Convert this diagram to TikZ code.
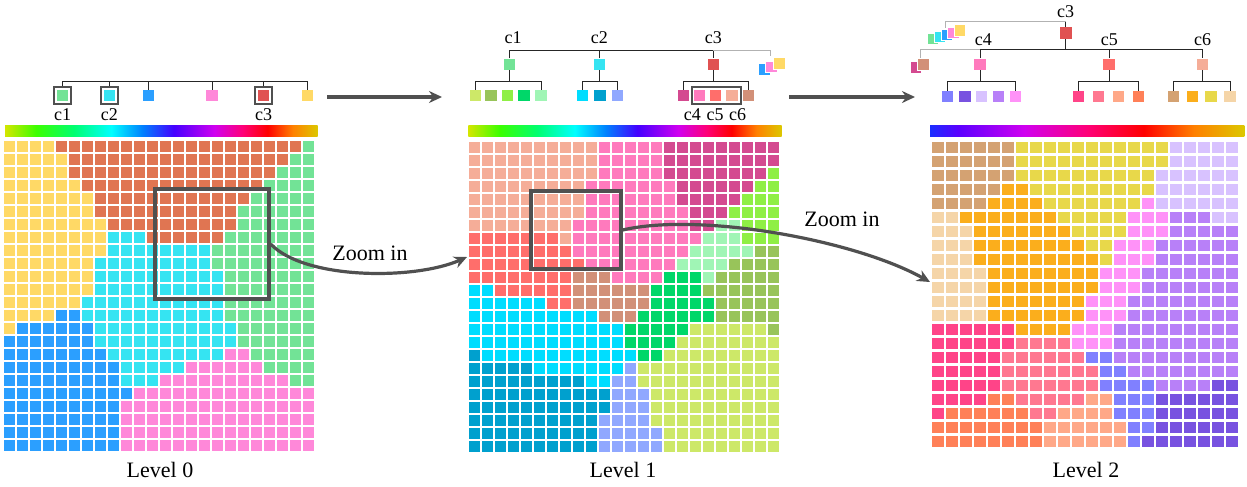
\documentclass[tikz,border=0pt]{standalone}
\usepackage{fontspec}
\setmainfont{Liberation Serif}
\usetikzlibrary{arrows.meta}

% level 0 colours
\definecolor{zaY}{HTML}{FFD966}
\definecolor{zaO}{HTML}{E07552}
\definecolor{zaG}{HTML}{72E396}
\definecolor{zaC}{HTML}{35E4F2}
\definecolor{zaB}{HTML}{2B9FFF}
\definecolor{zaP}{HTML}{FF88D9}
% level 1 colours
\definecolor{zbS}{HTML}{F5AD98}
\definecolor{zbK}{HTML}{FF7ABD}
\definecolor{zbM}{HTML}{D44A90}
\definecolor{zbL}{HTML}{8FEF45}
\definecolor{zbR}{HTML}{FF6E6B}
\definecolor{zbN}{HTML}{A0F5B5}
\definecolor{zbV}{HTML}{98C45A}
\definecolor{zbT}{HTML}{D29078}
\definecolor{zbE}{HTML}{00D769}
\definecolor{zbZ}{HTML}{00DDFF}
\definecolor{zbD}{HTML}{00A0CE}
\definecolor{zbW}{HTML}{90A8FF}
\definecolor{zbX}{HTML}{CDE868}
% level 2 colours
\definecolor{zca}{HTML}{D4A272}
\definecolor{zcy}{HTML}{E8D84A}
\definecolor{zcq}{HTML}{D8C2FF}
\definecolor{zco}{HTML}{FBAE1C}
\definecolor{zcf}{HTML}{F5D5A8}
\definecolor{zch}{HTML}{FF92F8}
\definecolor{zcu}{HTML}{B880F8}
\definecolor{zcr}{HTML}{FF4488}
\definecolor{zcp}{HTML}{FF7890}
\definecolor{zce}{HTML}{FFA888}
\definecolor{zcc}{HTML}{FF8058}
\definecolor{zcb}{HTML}{8080FF}
\definecolor{zcv}{HTML}{7852E0}
\definecolor{redc}{HTML}{E05252}
\definecolor{zoomgray}{HTML}{505050}

% colour bars
\definecolor{rbA}{HTML}{D4E600}
\definecolor{rbB}{HTML}{3CFF00}
\definecolor{rbC}{HTML}{00FF70}
\definecolor{rbD}{HTML}{00FFFF}
\definecolor{rbE}{HTML}{0080FF}
\definecolor{rbF}{HTML}{4400FF}
\definecolor{rbG}{HTML}{D000F0}
\definecolor{rbH}{HTML}{FF0078}
\definecolor{rbI}{HTML}{FF0000}
\definecolor{rbJ}{HTML}{FF8000}
\definecolor{rbK}{HTML}{DCC800}
\definecolor{rbL}{HTML}{1A2EFF}
\definecolor{rbM}{HTML}{5A00FF}
\pgfdeclarehorizontalshading{rainbowfull}{100bp}{color(0bp)=(rbA); color(25bp)=(rbA);
  color(30bp)=(rbB); color(36bp)=(rbC); color(42bp)=(rbD); color(47bp)=(rbE);
  color(52bp)=(rbF); color(58.5bp)=(rbG); color(63bp)=(rbH); color(67bp)=(rbI);
  color(71bp)=(rbJ); color(75bp)=(rbK); color(100bp)=(rbK)}
\pgfdeclarehorizontalshading{rainbowpart}{100bp}{color(0bp)=(rbL); color(25bp)=(rbL);
  color(29.5bp)=(rbM); color(40bp)=(rbG); color(50bp)=(rbH); color(59bp)=(rbI);
  color(67bp)=(rbJ); color(75bp)=(rbK); color(100bp)=(rbK)}

% one row of cells, one letter per cell
\newcount\cellk
\newcommand\cellrow[2]{\cellk=0 \def\cellj{#1}\expandafter\celldo#2\relax}
\newcommand\celldo[1]{\ifx#1\relax\else
  \fill[fill=\cellpre#1] ({\cellx+\the\cellk*\cellp},{\celly+\cellj*\cellp}) rectangle ++(\cellsz,\cellsz);
  \advance\cellk by 1 \expandafter\celldo\fi}

\tikzset{
  leaf/.style={minimum size=11.5pt, inner sep=0pt, fill=#1},
  stackleaf/.style={leaf=#1, draw=white, line width=0.8pt},
  framebox/.style={draw=zoomgray, line width=2pt, minimum size=16.5pt, inner sep=0pt},
  bar/.style={line width=1pt, black!85},
  ghost/.style={line width=1pt, black!30},
  lab/.style={font=\rmfamily\fontsize{18}{20}\selectfont, inner sep=0pt},
  caption/.style={font=\rmfamily\fontsize{22}{26}\selectfont, inner sep=0pt},
  zoombox/.style={draw=zoomgray, line width=3.3pt, inner sep=0pt},
  zoomarrow/.style={line width=3.2pt, zoomgray, -{Stealth[length=13pt,width=12pt]}}
}

\begin{document}
\begin{tikzpicture}[x=1pt,y=-1pt]
\useasboundingbox (0,0) rectangle (1247,487);

% level 0 grid
\def\cellpre{za}\def\cellx{4.3}\def\celly{141}\def\cellp{13}\def\cellsz{11}
\foreach \r [count=\j from 0] in {
 YYYYOOOOOOOOOOOOOOOOOOOG, YYYYYOOOOOOOOOOOOOOOOOGG, YYYYYOOOOOOOOOOOOOOOOGGG,
 YYYYYYOOOOOOOOOOOOOOGGGG, YYYYYYYOOOOOOOOOOOOGGGGG, YYYYYYYOOOOOOOOOOOGGGGGG,
 YYYYYYYYOOOOOOOOOOGGGGGG, YYYYYYYYCCCOOOOOOGGGGGGG, YYYYYYYYCCCCCCCCGGGGGGGG,
 YYYYYYYCCCCCCCCCGGGGGGGG, YYYYYYYCCCCCCCCCCGGGGGGG, YYYYYYYCCCCCCCCCCGGGGGGG,
 YYYYYYCCCCCCCCCCCGGGGGGG, YYYYBBCCCCCCCCCCCGGGGGGG, YBBBBBBCCCCCCCCCCCGGGGGG,
 BBBBBBBCCCCCCCCCCCGGGGGG, BBBBBBBBCCCCCCCCCPPGGGGG, BBBBBBBBBCCCCCPPPPPPGGGG,
 BBBBBBBBBCCCPPPPPPPPPPGG, BBBBBBBBBBPPPPPPPPPPPPPP, BBBBBBBBBPPPPPPPPPPPPPPP,
 BBBBBBBBBPPPPPPPPPPPPPPP, BBBBBBBBBPPPPPPPPPPPPPPP, BBBBBBBBBPPPPPPPPPPPPPPP}
 {\cellrow{\j}{\r}}

% level 1 grid
\def\cellpre{zb}\def\cellx{468.7}\def\celly{141.5}
\foreach \r [count=\j from 0] in {
 SSSSSSSSSSKKKKKMMMMMMMMM, SSSSSSSSSSKKKKKMMMMMMMMM, SSSSSSSSSSKKKKKMMMMMMMML,
 SSSSSSSSSKKKKKKKMMMMMMLL, SSSSSSSSSKKKKKKKMMMMMLLL, SSSSSSSSSKKKKKKKKMMMLLLL,
 SSSSSSSSKKKKKKKKKMMNNLLL, RRRRRRRSKKKKKKKKKKNNNLLL, RRRRRRRRKKKKKKKKKNNNNNVV,
 RRRRRRRRRKKKKKKKNNNNVVVV, RRRRRRRRTTTKKKKEEENVVVVV, ZZRRRRRRTTTTTTEEEEVVVVVV,
 ZZZZZZRRTTTTTTEEEEEVVVVV, ZZZZZZZZZZTTTEEEEEEVVVVV, ZZZZZZZZZZZZEEEEEXXXXXXV,
 ZZZZZZZZZZZZEEEEXXXXXXXX, DZZZZZZZZZZZZEEXXXXXXXXX, DDDDDZZZZZZZWXXXXXXXXXXX,
 DDDDDDDDDZZWWXXXXXXXXXXX, DDDDDDDDDDDWWWXXXXXXXXXX, DDDDDDDDDDDWWWXXXXXXXXXX,
 DDDDDDDDDDWWWWXXXXXXXXXX, DDDDDDDDDDWWWWWXXXXXXXXX, DDDDDDDDDDWWWWWXXXXXXXXX}
 {\cellrow{\j}{\r}}

% level 2 grid
\def\cellpre{zc}\def\cellx{932.3}\def\celly{141.5}\def\cellp{14}\def\cellsz{11.8}
\foreach \r [count=\j from 0] in {
 aaaaaayyyyyyyyyyyqqqqq, aaaaaayyyyyyyyyyyqqqqq, aaaaaayyyyyyyyyyqqqqqq,
 aaaaaooyyyyyyyyyqqqqqq, aaaaooooyyyyyyyhqqqqqq, ffoooooooyyyyyhhhuuuqq,
 fffoooooooyyyyhhhuuuuu, fffooooooooyyhhhuuuuuu, fffoooooooooyhhhuuuuuu,
 ffffoooooooohhhuuuuuuu, ffffoooooooohhhuuuuuuu, ffffooooooohhhuuuuuuuu,
 ffffooooooohhhuuuuuuuu, rrrrrroooohhhuuuuuuuuu, rrrrrrpppphhhuuuuuuuuu,
 rrrrrppppppbbuuuuuuuuu, rrrrrpppppppbbuuuuuuuu, rrrrrpppppppbbbbuuuuvv,
 rrrrccpppppeebbbvvvvvv, rccccccppeeeebbbvvvvvv, cccccccceeeeeebbvvvvvv,
 cccccccceeeeeebvvvvvvv}
 {\cellrow{\j}{\r}}

% colour bars
\shade[shading=rainbowfull] (5,125) rectangle (317.7,136);
\shade[shading=rainbowfull] (468.3,125) rectangle (781.7,136);
\shade[shading=rainbowpart] (930,125) rectangle (1244.3,136);

% level 0 tree
\node[leaf=zaG] (n0a) at (62.7,95.7) {};
\node[leaf=zaC] (n0b) at (109.3,95.7) {};
\node[leaf=zaB] (n0c) at (148.7,95.7) {};
\node[leaf=zaP] (n0d) at (212,95.7) {};
\node[leaf=redc] (n0e) at (263.7,95.7) {};
\node[leaf=zaY] (n0f) at (307.3,95.7) {};
\foreach \n in {a,b,e} \node[framebox] (f0\n) at (n0\n) {};
\coordinate (t0) at (0,81);
\draw[bar] (f0a.north) |- (t0 -| n0f) -- (n0f.north);
\foreach \n in {f0b,n0c,n0d,f0e} \draw[bar] (\n.north) -- (\n.north |- t0);
\node[lab] (l0a) at (62.7,115) {c1};
\node[lab] (l0b) at (109.3,115) {c2};
\node[lab] (l0e) at (263.7,115) {c3};

% level 1 tree
\node[leaf=zaG] (n1a) at (509.3,64.3) {};
\node[leaf=zaC] (n1b) at (599.3,64.3) {};
\node[leaf=redc] (n1c) at (713.3,64.3) {};
\node[lab] (l1a) at (513,38) {c1};
\node[lab] (l1b) at (599.3,38) {c2};
\node[lab] (l1c) at (713.3,38) {c3};
\coordinate (t1) at (0,51);
\draw[bar] (n1a.north) |- (t1 -| n1c) -- (n1c.north);
\draw[bar] (n1b.north) -- (n1b.north |- t1);
\draw[ghost] (t1 -| n1c) -| (770,56);
\node[stackleaf=zaB] (s1a) at (764.5,69.2) {};
\node[stackleaf=zaP] (s1b) at (771.3,66.7) {};
\node[stackleaf=zaY] (s1c) at (779.2,63.5) {};
\coordinate (u1) at (0,81.7);
\foreach \c/\x [count=\i] in {X/475.3,V/491,L/507.3,E/524,N/541}
  \node[leaf=zb\c] (k1a\i) at (\x,95.7) {};
\foreach \c/\x [count=\i] in {Z/582.7,D/600,W/617.3}
  \node[leaf=zb\c] (k1b\i) at (\x,95.7) {};
\foreach \c/\x [count=\i] in {M/683.7,K/699.3,R/715.7,S/732,T/748.3}
  \node[leaf=zb\c] (k1c\i) at (\x,95.7) {};
\draw[bar] (k1a1.north) |- (u1 -| k1a5) -- (k1a5.north);
\draw[bar] (k1b1.north) |- (u1 -| k1b3) -- (k1b3.north);
\draw[bar] (k1c1.north) |- (u1 -| k1c5) -- (k1c5.north);
\foreach \n in {n1a,n1b,n1c} \draw[bar] (\n.south) -- (\n.south |- u1);
\node[framebox, minimum width=49pt, minimum height=17pt] (g1) at (716.2,95.8) {};
\node[lab] (l1d) at (692.3,115) {c4};
\node[lab] (l1e) at (715,115) {c5};
\node[lab] (l1f) at (737.7,115) {c6};

% level 2 tree
\node[lab] (l2c) at (1065.7,11.7) {c3};
\node[leaf=redc, minimum size=12pt] (n2c) at (1065.7,33.3) {};
\coordinate (t2) at (0,21.7);
\draw[bar] (n2c.north) -- (n2c.north |- t2);
\draw[ghost] (n2c.north |- t2) -| (945.3,28);
\node[stackleaf=zaG] (s2a) at (933,39) {};
\node[stackleaf=zaC] (s2b) at (940,37) {};
\node[stackleaf=zaB] (s2c) at (946.7,35) {};
\node[stackleaf=zaP] (s2d) at (953.3,33) {};
\node[stackleaf=zaY] (s2e) at (960,30.5) {};
\node[leaf=zbK] (n2d) at (980,64.3) {};
\node[leaf=zbR] (n2e) at (1109,64.3) {};
\node[leaf=zbS] (n2f) at (1202.3,64.3) {};
\node[lab] (l2d) at (983.3,39.3) {c4};
\node[lab] (l2e) at (1109.3,39.3) {c5};
\node[lab] (l2f) at (1202.7,39.3) {c6};
\coordinate (u2) at (0,50);
\draw[bar] (n2c.south) -- (n2c.south |- u2);
\draw[bar] (n2d.north) |- (u2 -| n2f) -- (n2f.north);
\draw[bar] (n2e.north) -- (n2e.north |- u2);
\draw[ghost] (u2 -| n2d) -| (920.7,58);
\node[stackleaf=zbM] (m2a) at (915.8,67.5) {};
\node[stackleaf=zbT] (m2b) at (923.3,64.5) {};
\coordinate (v2) at (0,81);
\foreach \c/\x [count=\i] in {b/947.7,v/965,q/981.7,u/998.3,h/1015.3}
  \node[leaf=zc\c] (k2d\i) at (\x,96.7) {};
\foreach \c/\x [count=\i] in {r/1078.3,p/1098.3,e/1118.3,c/1138.3}
  \node[leaf=zc\c] (k2e\i) at (\x,96.7) {};
\foreach \c/\x [count=\i] in {a/1173.3,o/1192.3,y/1211,f/1230}
  \node[leaf=zc\c] (k2f\i) at (\x,96.7) {};
\draw[bar] (k2d1.north) |- (v2 -| k2d5) -- (k2d5.north);
\draw[bar] (k2e1.north) |- (v2 -| k2e4) -- (k2e4.north);
\draw[bar] (k2f1.north) |- (v2 -| k2f4) -- (k2f4.north);
\foreach \n in {n2d,n2e,n2f} \draw[bar] (\n.south) -- (\n.south |- v2);

% zoom boxes and arrows
\node[zoombox, minimum width=114pt, minimum height=110pt] (z0) at (212,244) {};
\node[zoombox, minimum width=90pt, minimum height=78pt] (z1) at (576,230) {};
\coordinate (e1) at (467,257);
\coordinate (e2) at (930,282);
\draw[zoomarrow] (z0.east) .. controls (305,280) and (415,280) .. (e1);
\draw[zoomarrow] (z1.east) .. controls (700,212) and (855,240) .. (e2);
\node[caption] (zi1) at (370,253) {Zoom in};
\node[caption] (zi2) at (842,219) {Zoom in};

\coordinate (a1s) at (327,97);
\coordinate (a1e) at (442,97);
\coordinate (a2s) at (789,97);
\coordinate (a2e) at (915,97);
\draw[zoomarrow] (a1s) -- (a1e);
\draw[zoomarrow] (a2s) -- (a2e);

% captions
\node[caption] (cap0) at (160,470) {Level 0};
\node[caption] (cap1) at (623,470) {Level 1};
\node[caption] (cap2) at (1086,470) {Level 2};
\end{tikzpicture}
\end{document}
